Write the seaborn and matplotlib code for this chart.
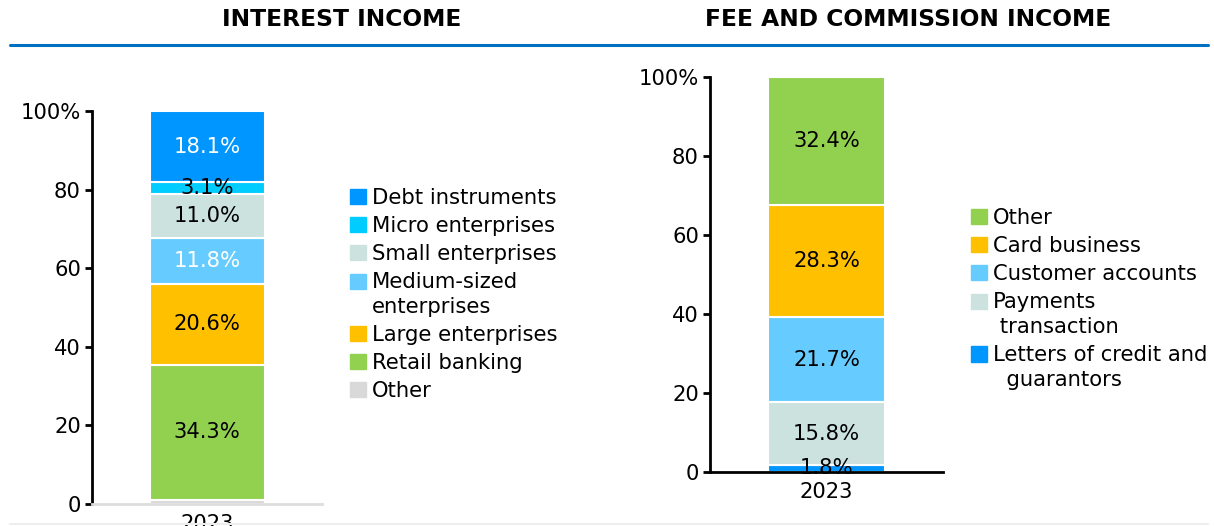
import matplotlib.pyplot as plt
import seaborn as sns
from matplotlib.lines import Line2D
from matplotlib.patches import Patch, Rectangle
from matplotlib.legend_handler import HandlerPatch

sns.set_style("white")
plt.rcParams['font.family'] = ['DejaVu Sans']
plt.rcParams['text.color'] = 'black'
plt.rcParams['xtick.color'] = 'black'
plt.rcParams['ytick.color'] = 'black'

# Interest income (bottom to top)
int_labels = ["Other", "Retail banking", "Large enterprises", "Medium-sized\nenterprises",
              "Small enterprises", "Micro enterprises", "Debt instruments"]
int_values = [1.1, 34.3, 20.6, 11.8, 11.0, 3.1, 18.1]
int_colors = ["#D9D9D9", "#92D050", "#FFC000", "#66CCFF", "#CCE2DF", "#00CCFF", "#0096FF"]
int_text = [None, "black", "black", "white", "black", "black", "white"]

# Fee and commission income (bottom to top)
fee_labels = ["Letters of credit and\n  guarantors", "Payments\n transaction",
              "Customer accounts", "Card business", "Other"]
fee_values = [1.8, 15.8, 21.7, 28.3, 32.4]
fee_colors = ["#0096FF", "#CCE2DF", "#66CCFF", "#FFC000", "#92D050"]
fee_text = ["black", "black", "black", "black", "black"]

years = ["2023"]
FS = 15.2
LSP = 1.3

fig = plt.figure(figsize=(12.14, 5.26), dpi=100)
ax1 = fig.add_axes([92 / 1214, 22 / 526, 230 / 1214, 393 / 526])
ax2 = fig.add_axes([710 / 1214, 54 / 526, 233 / 1214, 395 / 526])


def stacked(ax, values, colors, txt):
    bottom = 0
    for v, c, t in zip(values, colors, txt):
        sns.barplot(x=years, y=[v], bottom=bottom, color=c, width=0.5,
                    edgecolor="white", linewidth=1.5, saturation=1, ax=ax)
        if t is not None:
            ax.bar_label(ax.containers[-1], labels=[f"{v}%"], label_type="center",
                         color=t, fontsize=FS)
        bottom += v
    ax.set_ylim(0, 100)
    ax.set_xlim(-0.5, 0.5)
    ax.set_yticks([0, 20, 40, 60, 80, 100])
    ax.set_yticklabels(["0", "20", "40", "60", "80", "100%"])
    ax.set_xlabel("")
    ax.set_ylabel("")
    for s in ["top", "right"]:
        ax.spines[s].set_visible(False)
    ax.spines["left"].set_linewidth(2)
    ax.spines["bottom"].set_linewidth(2)
    ax.tick_params(axis="y", length=5, width=2, pad=3, labelsize=FS, left=True)
    ax.tick_params(axis="x", length=0, pad=7, labelsize=FS)


stacked(ax1, int_values, int_colors, int_text)
stacked(ax2, fee_values, fee_colors, fee_text)
ax1.spines["left"].set_color("black")
ax1.spines["bottom"].set_color("#DDDDDD")
ax2.spines["left"].set_color("black")
ax2.spines["bottom"].set_color("black")


# legend handle sits beside the first line of a two-line label
def top_square(shift):
    def make(legend, orig_handle, xdescent, ydescent, width, height, fontsize):
        return Rectangle((-xdescent, -ydescent + shift), width, height)
    return HandlerPatch(patch_func=make)


def add_legend(labels, colors, anchor):
    handles = [Patch(color=c, label=l) for c, l in zip(colors[::-1], labels[::-1])]
    hmap = {h: top_square(FS * LSP / 2) for h in handles if "\n" in h.get_label()}
    leg = fig.legend(handles=handles, handler_map=hmap, loc="upper left",
                     bbox_to_anchor=anchor, frameon=False, fontsize=FS,
                     handlelength=0.75, handleheight=0.75, handletextpad=0.3,
                     labelspacing=0.38, borderpad=0, borderaxespad=0)
    for t in leg.get_texts():
        t.set_linespacing(LSP)
    return leg


add_legend(int_labels, int_colors, (350 / 1214, 1 - 188 / 526))
add_legend(fee_labels, fee_colors, (971 / 1214, 1 - 208 / 526))

# titles and rule
fig.text(342 / 1214, 1 - 19 / 526, "INTEREST INCOME", ha="center", va="center",
         fontsize=16.8, fontweight="bold", color="black")
fig.text(908 / 1214, 1 - 19 / 526, "FEE AND COMMISSION INCOME", ha="center", va="center",
         fontsize=16.8, fontweight="bold", color="black")
fig.add_artist(Line2D([10 / 1214, 1208 / 1214], [1 - 45 / 526, 1 - 45 / 526],
                      color="#0070C0", lw=2.2, transform=fig.transFigure))
fig.add_artist(Line2D([10 / 1214, 1208 / 1214], [1 - 524 / 526, 1 - 524 / 526],
                      color="#EEEEEE", lw=1.5, transform=fig.transFigure))

fig.savefig("out.png", dpi=100)
